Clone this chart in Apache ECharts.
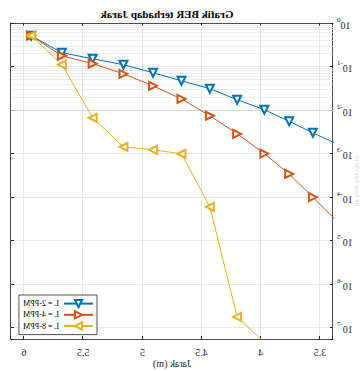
<!DOCTYPE html>
<html lang="en">
<head>
<meta charset="UTF-8">
<title>Grafik BER terhadap Jarak</title>
<style>
    html, body { margin: 0; padding: 0; background: #fff; }
    /* gambar acuan adalah bayangan cermin, jadi seluruh chart dibalik horizontal */
    #main { width: 363px; height: 371px; transform: scaleX(-1); }
</style>
</head>
<body>
<div id="main"></div>
<script src="https://cdn.jsdelivr.net/npm/echarts@6/dist/echarts.min.js"></script>
<script>
    // data
    var jarak = [5.94, 5.68, 5.42, 5.16, 4.91, 4.67, 4.43, 4.20, 3.97, 3.76, 3.56, 3.36];
    var ber2 = [0.51, 0.207, 0.151, 0.11, 0.072, 0.047, 0.031, 0.0173, 0.0102, 0.0055, 0.0030, 0.00168];
    var ber4 = [0.51, 0.177, 0.116, 0.068, 0.036, 0.018, 0.0074, 0.00285, 0.0010, 0.00034, 0.00010, 0.0000285];
    var ber8 = [0.51, 0.11, 0.00665, 0.00143, 0.00122, 0.00099, 0.000060, 0.000000177, 0.000000046];
    var namaSeri = ['L = 2-PPM', 'L = 4-PPM', 'L = 8-PPM'];
    var xTicks = [3.5, 4, 4.5, 5, 5.5, 6];

    var font = 'Liberation Serif';
    var axisColor = '#262626';

    function pasang(ys) {
        return ys.map(function (y, i) { return [jarak[i], y]; });
    }

    // garis grid minor (2..9 x 10^k) seperti di matlab
    var minor = [];
    for (var k = -8; k < 0; k++) {
        for (var m = 2; m <= 9; m++) {
            var v = m * Math.pow(10, k);
            if (v > 5.5e-8) minor.push({ yAxis: v });
        }
    }

    function labelY(v) {
        var p = Math.log10(v);
        var k = Math.round(p);
        if (Math.abs(p - k) > 0.01) return '';
        return '{b|10}{s|' + k + '}';
    }

    var myChart = echarts.init(document.getElementById('main'), null, { renderer: 'svg' });

    function seri(nama, data, warna, rot) {
        return {
            name: nama,
            type: 'line',
            data: pasang(data),
            clip: true,
            symbol: 'emptyTriangle',
            symbolSize: 8,
            symbolRotate: rot,
            lineStyle: { color: warna, width: 1 },
            itemStyle: { color: warna, borderColor: warna, borderWidth: 0.7 },
            z: 3
        };
    }

    var series = [
        seri(namaSeri[0], ber2, '#0072BD', 180),
        seri(namaSeri[1], ber4, '#D95319', 90),
        seri(namaSeri[2], ber8, '#EDB120', -90)
    ];
    series[0].markLine = {
        silent: true,
        symbol: ['none', 'none'],
        label: { show: false },
        animation: false,
        z: 1,
        lineStyle: { color: '#d4d4d4', type: 'dotted', width: 0.8 },
        data: minor
    };

    var option = {
        animation: false,
        backgroundColor: '#fff',
        title: {
            text: 'Grafik BER terhadap Jarak',
            left: 191,
            top: 3,
            textAlign: 'center',
            textStyle: { fontFamily: font, fontSize: 11, fontWeight: 'bold', color: '#000' }
        },
        legend: {
            orient: 'vertical',
            left: 266,
            top: 295,
            padding: [4, 4, 4, 3],
            itemGap: 2,
            itemWidth: 29,
            itemHeight: 9,
            backgroundColor: '#fff',
            borderColor: axisColor,
            borderWidth: 0.8,
            borderRadius: 0,
            textStyle: { fontFamily: font, fontSize: 8, color: '#000' },
            data: namaSeri
        },
        grid: { left: 30, right: 11, top: 23, bottom: 32, show: false, containLabel: false, outerBoundsMode: 'none' },
        xAxis: [{
            type: 'value',
            min: 3.39,
            max: 6.11,
            name: 'Jarak (m)',
            nameLocation: 'middle',
            nameGap: 19,
            nameMoveOverlap: false,
            nameTextStyle: { fontFamily: font, fontSize: 10, color: axisColor },
            axisLine: { lineStyle: { color: axisColor, width: 0.8 } },
            axisTick: { inside: true, length: 3, lineStyle: { color: axisColor } },
            axisLabel: {
                margin: 8,
                fontFamily: font,
                fontSize: 10,
                color: axisColor,
                formatter: function (v) {
                    var r = Math.round(v * 100) / 100;
                    return xTicks.indexOf(r) >= 0 ? String(r) : '';
                }
            },
            splitLine: { show: true, lineStyle: { color: '#e2e2e2', width: 0.8 } }
        }, {
            type: 'value',
            position: 'top',
            min: 3.39,
            max: 6.11,
            axisLine: { show: true, onZero: false, lineStyle: { color: axisColor, width: 0.8 } },
            axisTick: { inside: true, length: 3, lineStyle: { color: axisColor } },
            axisLabel: { show: false },
            splitLine: { show: false }
        }],
        yAxis: [{
            type: 'log',
            min: 5.5e-8,
            max: 1,
            name: 'Bit Error Rate (BER)',
            nameLocation: 'middle',
            nameGap: 20,
            nameMoveOverlap: false,
            nameTextStyle: { fontFamily: font, fontSize: 6, lineHeight: 7, color: '#d6d6d6' },
            axisLine: { show: true, onZero: false, lineStyle: { color: axisColor, width: 0.8 } },
            axisTick: { inside: true, length: 3, lineStyle: { color: axisColor } },
            axisLabel: {
                margin: 4,
                color: axisColor,
                formatter: labelY,
                rich: {
                    b: { fontFamily: font, fontSize: 10, color: axisColor, verticalAlign: 'bottom', lineHeight: 14 },
                    s: { fontFamily: font, fontSize: 7, color: axisColor, verticalAlign: 'top', lineHeight: 14 }
                }
            },
            splitLine: { show: true, lineStyle: { color: '#e2e2e2', width: 0.8 } }
        }, {
            type: 'log',
            position: 'right',
            min: 5.5e-8,
            max: 1,
            axisLine: { show: true, onZero: false, lineStyle: { color: axisColor, width: 0.8 } },
            axisTick: { inside: true, length: 3, lineStyle: { color: axisColor } },
            axisLabel: { show: false },
            splitLine: { show: false }
        }],
        series: series
    };

    myChart.setOption(option);
</script>
</body>
</html>
